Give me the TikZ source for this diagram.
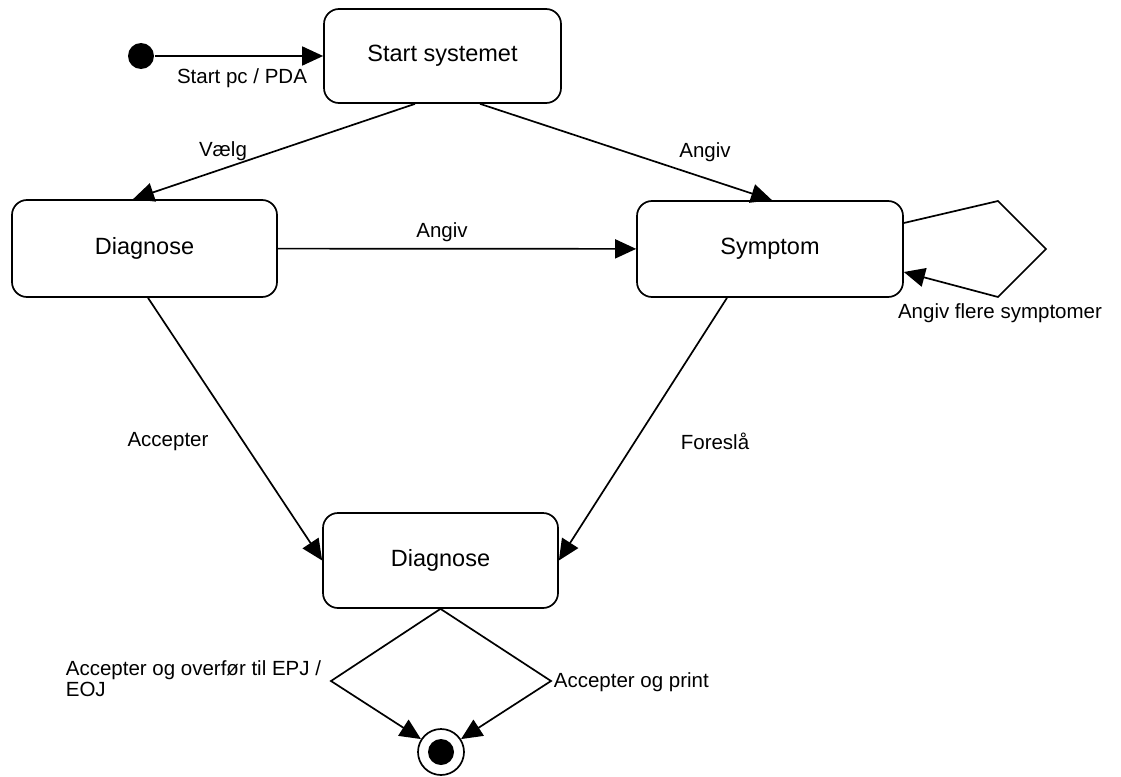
\documentclass[tikz,border=0pt]{standalone}
\usepackage{fontspec}
\setmainfont{Liberation Sans}
\usetikzlibrary{arrows.meta,positioning}

\begin{document}
\begin{tikzpicture}[
        x=1pt, y=-1pt,
        line width=1.7pt,
        state/.style={draw, rounded corners=15pt, fill=white, align=center, inner sep=0pt,
            font=\fontsize{23.5}{28}\selectfont},
        lbl/.style={inner sep=0pt, align=left,
            font=\fontsize{20.5}{21}\selectfont},
        >={Triangle[length=21pt, width=19pt]}
    ]
    \useasboundingbox (0,0) rectangle (1121,776);

    % Nodes
    \node (init) [circle, fill=black, minimum size=26pt, inner sep=0pt] at (141,56) {};
    \node (start) [state, minimum width=237pt, minimum height=94pt] at (442.5,56) {Start systemet};
    \node (diag) [state, minimum width=265pt, minimum height=97pt] at (144.5,248.5) {Diagnose};
    \node (sym) [state, minimum width=266pt, minimum height=96pt] at (770,249) {Symptom};
    \node (res) [state, minimum width=235pt, minimum height=95pt] at (440.5,560.5) {Diagnose};
    \node (final) [circle, draw, minimum size=46pt, inner sep=0pt] at (441,752) {};
    \node (finaldot) [circle, fill=black, minimum size=26pt, inner sep=0pt] at (final) {};

    % Edges
    \draw[->] (init) -- (start);
    \draw[->] ([xshift=-27.5pt]start.south) -- ([xshift=-11.5pt]diag.north);
    \draw[->] ([xshift=37.5pt]start.south) -- ([xshift=2pt]sym.north);
    \draw[->] (diag) -- (sym);
    \draw[->] ([yshift=26pt]sym.east) -- (998,201) -- (1046,249) -- (998,297) -- ([yshift=-23pt]sym.east);
    \draw[->] ([xshift=3.5pt]diag.south) -- (res.west);
    \draw[->] ([xshift=-43pt]sym.south) -- (res.east);
    \draw[->] (res.south) -- (331,681) -- (final);
    \draw[->] (res.south) -- (551,681) -- (final);

    % Labels
    \node (lstart) [lbl] at (242,78) {Start pc / PDA};
    \node (lvaelg) [lbl] at (223,151) {Vælg};
    \node (langiv1) [lbl] at (705,152) {Angiv};
    \node (langiv2) [lbl] at (442,232) {Angiv};
    \node (lflere) [lbl] at (1000,313) {Angiv flere symptomer};
    \node (lacc) [lbl] at (168,442) {Accepter};
    \node (lfor) [lbl] at (715,441) {Foreslå};
    \node (lepj) [lbl, anchor=west] at (65,679) {Accepter og overfør til EPJ /\\EOJ};
    \node (lprint) [lbl, anchor=west] at (553,682) {Accepter og print};

\end{tikzpicture}
\end{document}
